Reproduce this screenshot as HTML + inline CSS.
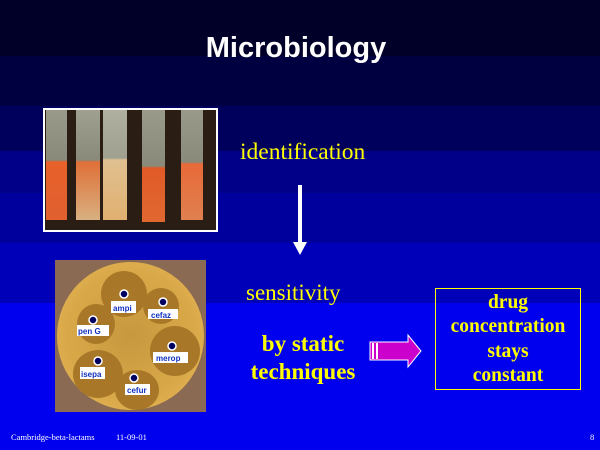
<!DOCTYPE html>
<html><head><style>
html,body{margin:0;padding:0}
body{width:600px;height:450px;position:relative;overflow:hidden;font-family:"Liberation Serif",serif;
background:linear-gradient(#000028 0,#000028 56px,#000040 56px,#000040 106px,#00005c 106px,#00005c 151px,#000088 151px,#000088 193px,#00009c 193px,#00009c 243px,#0000b8 243px,#0000b8 303px,#0000ee 303px);}
.t{position:absolute;white-space:nowrap}
</style></head><body>
<div class="t" style="left:0;width:600px;top:32px;text-align:center;font-family:'Liberation Sans',sans-serif;font-weight:bold;font-size:29px;color:#fff"><span style="position:relative;left:-4px">Microbiology</span></div>

<div style="position:absolute;left:43px;top:108px;width:171px;height:120px;border:2px solid #fff;background:#2a1e14;overflow:hidden">
 <div style="position:absolute;left:1px;top:0;width:21px;height:110px;background:linear-gradient(#9a9a8a 0,#8a8a7a 50px,#e8602a 52px,#e06030 110px)"></div>
 <div style="position:absolute;left:31px;top:0;width:24px;height:110px;background:linear-gradient(#a0a090 0,#8a8a7a 50px,#e07038 52px,#d8b080 110px)"></div>
 <div style="position:absolute;left:58px;top:0;width:24px;height:110px;background:linear-gradient(#b0b0a0 0,#a0a090 48px,#e0c090 50px,#e0b070 110px)"></div>
 <div style="position:absolute;left:97px;top:0;width:23px;height:112px;background:linear-gradient(#9a9a8a 0,#8a8a7a 56px,#e05a28 58px,#e06830 112px)"></div>
 <div style="position:absolute;left:136px;top:0;width:22px;height:110px;background:linear-gradient(#9a9a8a 0,#8a8a7a 52px,#e86a38 54px,#e08050 110px)"></div>
</div>

<div style="position:absolute;left:55px;top:260px;width:151px;height:152px;background:#8a6a52;overflow:hidden">
 <div style="position:absolute;left:2px;top:2px;width:147px;height:148px;border-radius:50%;background:radial-gradient(circle,#c89840 0,#d8a848 60%,#e8b858 90%,#b88838 100%)"></div>
 <div style="position:absolute;left:46px;top:11px;width:46px;height:46px;border-radius:50%;background:#a87828"></div>
 <div style="position:absolute;left:88px;top:28px;width:36px;height:36px;border-radius:50%;background:#a87828"></div>
 <div style="position:absolute;left:22px;top:44px;width:38px;height:40px;border-radius:50%;background:#a87828"></div>
 <div style="position:absolute;left:95px;top:66px;width:50px;height:50px;border-radius:50%;background:#a87828"></div>
 <div style="position:absolute;left:18px;top:90px;width:50px;height:48px;border-radius:50%;background:#a87828"></div>
 <div style="position:absolute;left:60px;top:110px;width:44px;height:40px;border-radius:50%;background:#a87828"></div>
 <svg width="151" height="152" style="position:absolute;left:0;top:0" font-family="Liberation Sans" font-weight="bold" font-size="8">
  <g fill="#000060" stroke="#fff" stroke-width="1.5">
   <circle cx="69" cy="34" r="4"/><circle cx="108" cy="42" r="4"/><circle cx="38" cy="60" r="4"/>
   <circle cx="117" cy="86" r="4"/><circle cx="43" cy="101" r="4"/><circle cx="79" cy="118" r="4"/>
  </g>
  <g fill="#fff"><rect x="56" y="41" width="25" height="12"/><rect x="93" y="49" width="30" height="10"/><rect x="22" y="65" width="32" height="11"/><rect x="98" y="92" width="35" height="11"/><rect x="25" y="107" width="25" height="12"/><rect x="70" y="124" width="25" height="11"/></g>
  <g fill="#1030c0"><text x="58" y="51">ampi</text><text x="96" y="58">cefaz</text><text x="23" y="74">pen G</text><text x="101" y="101">merop</text><text x="26" y="117">isepa</text><text x="72" y="133">cefur</text></g>
 </svg>
</div>

<div class="t" style="left:240px;top:139px;font-size:23.5px;color:#ffff00">identification</div>
<div style="position:absolute;left:298px;top:185px;width:4px;height:58px;background:#fff"></div>
<div style="position:absolute;left:293px;top:242px;width:0;height:0;border-left:7px solid transparent;border-right:7px solid transparent;border-top:13px solid #fff"></div>
<div class="t" style="left:246px;top:280px;font-size:23px;color:#ffff00">sensitivity</div>
<div class="t" style="left:203px;width:200px;top:330px;text-align:center;font-size:23px;font-weight:bold;line-height:28px;color:#ffff00">by static<br>techniques</div>

<svg width="60" height="40" style="position:absolute;left:368px;top:332px">
 <polygon points="2,10 40,10 40,3 53,19 40,35 40,28 2,28" fill="#cc00cc" stroke="#fff" stroke-width="1"/>
 <rect x="4" y="11" width="2" height="16" fill="#fff"/><rect x="8" y="11" width="2" height="16" fill="#fff"/>
</svg>

<div style="position:absolute;left:435px;top:288px;width:144px;height:100px;border:1px solid #ffff00"></div>
<div class="t" style="left:435px;width:146px;top:291px;text-align:center;font-size:19.5px;font-weight:bold;line-height:24.3px;color:#ffff00">drug<br>concentration<br>stays<br>constant</div>

<div class="t" style="left:11px;top:432px;font-size:8.5px;color:#fff">Cambridge-beta-lactams</div>
<div class="t" style="left:116px;top:432px;font-size:8.5px;color:#fff">11-09-01</div>
<div class="t" style="left:590px;top:432px;font-size:8.5px;color:#fff">8</div>
</body></html>
